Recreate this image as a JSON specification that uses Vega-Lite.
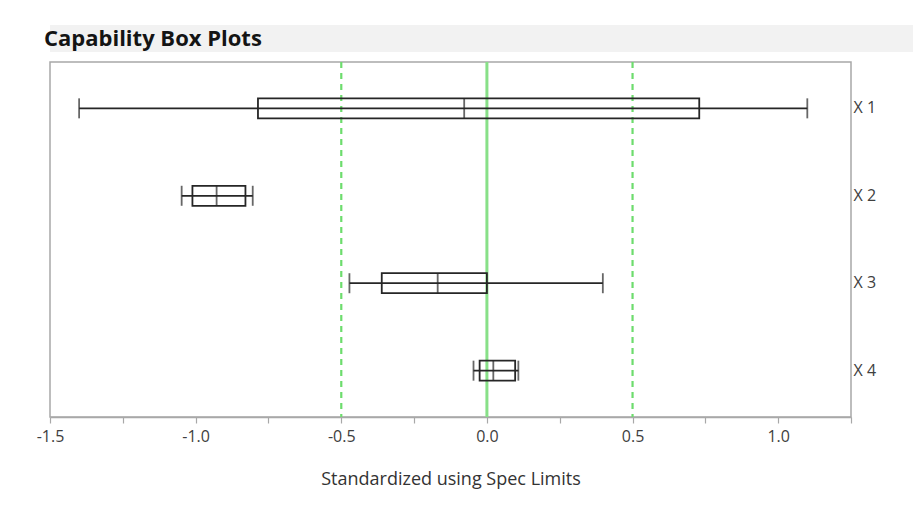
{
  "$schema": "https://vega.github.io/schema/vega-lite/v6.json",
  "background": "white",
  "padding": {"left": 35, "top": 25, "right": 5, "bottom": 5},
  "config": {
    "font": "Open Sans",
    "concat": {"spacing": 10}
  },
  "datasets": {
    "boxes": [
      {"name": "X 1", "lo": -1.40, "q1": -0.786, "med": -0.078, "q3": 0.729, "hi": 1.10},
      {"name": "X 2", "lo": -1.048, "q1": -1.011, "med": -0.928, "q3": -0.829, "hi": -0.804},
      {"name": "X 3", "lo": -0.472, "q1": -0.361, "med": -0.169, "q3": 0.0, "hi": 0.398},
      {"name": "X 4", "lo": -0.046, "q1": -0.025, "med": 0.022, "q3": 0.097, "hi": 0.108}
    ],
    "limits": [{"v": -0.5}, {"v": 0.5}],
    "target": [{"v": 0}],
    "heading": [{"label": "Capability Box Plots"}]
  },
  "bounds": "flush",
  "vconcat": [
    {
      "width": 863,
      "height": 27,
      "view": {"fill": "#f2f2f2", "stroke": null},
      "data": {"name": "heading"},
      "mark": {"type": "text", "align": "left", "baseline": "middle", "fontSize": 22, "fontWeight": "bold", "color": "#141414", "font": "Open Sans", "dx": -6},
      "encoding": {
        "x": {"datum": 0, "type": "quantitative", "scale": {"domain": [0, 1]}, "axis": null},
        "text": {"field": "label", "type": "nominal"}
      }
    },
    {
      "width": 801,
      "height": 355,
      "view": {"stroke": "#a8a8a8", "strokeWidth": 1.5},
      "layer": [
        {
          "data": {"name": "limits"},
          "mark": {"type": "rule", "color": "#6ddc6d", "strokeWidth": 2.2, "strokeDash": [6, 5]},
          "encoding": {"x": {"field": "v", "type": "quantitative"}}
        },
        {
          "data": {"name": "target"},
          "mark": {"type": "rule", "color": "#88e088", "strokeWidth": 3},
          "encoding": {"x": {"field": "v", "type": "quantitative"}}
        },
        {
          "data": {"name": "boxes"},
          "mark": {"type": "rule", "color": "#262626", "strokeWidth": 1.8},
          "encoding": {
            "y": {
              "field": "name", "type": "nominal",
              "scale": {"paddingInner": 0, "paddingOuter": 0.03},
              "axis": {"orient": "right", "title": null, "domain": false, "ticks": false, "labelPadding": 2, "labelFontSize": 16, "labelColor": "#404040", "labelFont": "Open Sans"}
            },
            "x": {
              "field": "lo", "type": "quantitative",
              "scale": {"domain": [-1.5, 1.25], "nice": false, "zero": false},
              "axis": {
                "values": [-1.5, -1.25, -1, -0.75, -0.5, -0.25, 0, 0.25, 0.5, 0.75, 1, 1.25],
                "labelExpr": "abs(datum.value*2 - round(datum.value*2)) < 0.001 ? (datum.value < 0 ? '-' : '') + format(abs(datum.value), '.1f') : ''",
                "grid": false,
                "domainColor": "#a8a8a8", "domainWidth": 1.5,
                "tickColor": "#a8a8a8", "tickSize": 6, "tickWidth": 1.2,
                "labelFlush": false, "labelOverlap": false,
                "labelFontSize": 16, "labelColor": "#404040", "labelPadding": 5, "labelFont": "Open Sans",
                "title": "Standardized using Spec Limits",
                "titleFontWeight": "normal", "titleFontSize": 18, "titleColor": "#333333", "titlePadding": 26, "titleFont": "Open Sans"
              }
            },
            "x2": {"field": "hi"}
          }
        },
        {
          "data": {"name": "boxes"},
          "mark": {"type": "bar", "fill": "white", "fillOpacity": 0, "stroke": "#262626", "strokeWidth": 1.8, "size": 20},
          "encoding": {
            "y": {"field": "name", "type": "nominal"},
            "x": {"field": "q1", "type": "quantitative"},
            "x2": {"field": "q3"}
          }
        },
        {
          "data": {"name": "boxes"},
          "mark": {"type": "tick", "color": "#262626", "thickness": 1.8, "size": 20},
          "encoding": {"y": {"field": "name", "type": "nominal"}, "x": {"field": "med", "type": "quantitative"}}
        },
        {
          "data": {"name": "boxes"},
          "mark": {"type": "tick", "color": "#262626", "thickness": 1.8, "size": 20},
          "encoding": {"y": {"field": "name", "type": "nominal"}, "x": {"field": "lo", "type": "quantitative"}}
        },
        {
          "data": {"name": "boxes"},
          "mark": {"type": "tick", "color": "#262626", "thickness": 1.8, "size": 20},
          "encoding": {"y": {"field": "name", "type": "nominal"}, "x": {"field": "hi", "type": "quantitative"}}
        }
      ]
    }
  ]
}
